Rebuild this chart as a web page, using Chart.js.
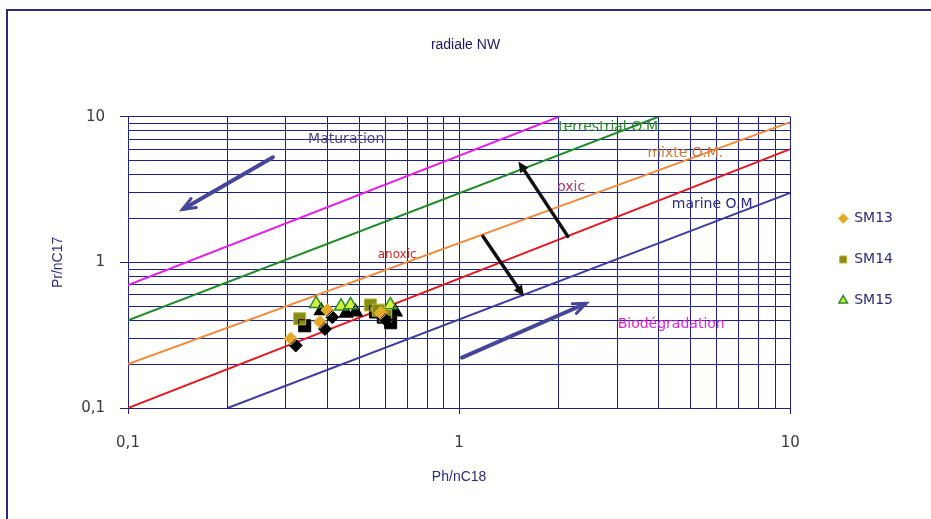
<!DOCTYPE html>
<html>
<head>
<meta charset="utf-8">
<script src="https://cdn.jsdelivr.net/npm/chart.js@4.4.1/dist/chart.umd.min.js"></script>
<style>
  body { margin: 0; background: #fff; }
  #wrap { position: relative; width: 931px; height: 519px; overflow: hidden; }
  #frame { position: absolute; left: 6px; top: 9px; width: 1000px; height: 600px;
           border-left: 2px solid #2b2b78; border-top: 2px solid #2b2b78; background: #fffffd; }
  #chart { position: absolute; left: 0; top: 0; }
</style>
</head>
<body>
<div id="wrap"><div id="frame"></div><canvas id="chart" width="931" height="519"></canvas></div>
<script>
// samples: Ph/nC18 (x) vs Pr/nC17 (y)
const sm13X = [0.31, 0.38, 0.40, 0.58];
const sm13Y = [0.30, 0.39, 0.47, 0.45];
const sm14X = [0.33, 0.54, 0.57, 0.60];
const sm14Y = [0.41, 0.51, 0.47, 0.43];
const sm15X = [0.37, 0.44, 0.47, 0.62];
const sm15Y = [0.52, 0.50, 0.51, 0.51];

// reference lines (start / end points)
const lineNames = ['maturation', 'terrestrial', 'mixte', 'anoxic', 'marine'];
const lineX0 = [0.1, 0.1, 0.1, 0.1, 0.2];
const lineY0 = [0.7, 0.4, 0.2, 0.1, 0.1];
const lineX1 = [2, 4, 10, 10, 10];
const lineY1 = [10, 10, 9.2, 6, 3];

// labels written on the plot
const noteText = ['Maturation', 'terrestrial O.M', 'mixte O.M.', 'oxic', 'anoxic', 'marine O.M', 'Biodégradation'];
const noteX = [0.456, 2.82, 4.82, 2.18, 0.65, 5.81, 4.37];
const noteY = [7.0, 8.47, 5.61, 3.28, 1.12, 2.5, 0.375];

// arrows
const arrowX0 = [0.274, 1.02, 2.13, 1.18];
const arrowY0 = [5.27, 0.222, 1.51, 1.51];
const arrowX1 = [0.146, 2.42, 1.51, 1.57];
const arrowY1 = [2.31, 0.523, 4.94, 0.584];

// axis ticks
const gridVals = [0.1, 0.2, 0.3, 0.4, 0.5, 0.6, 0.7, 0.8, 0.9, 1, 2, 3, 4, 5, 6, 7, 8, 9, 10];
const labelVals = [0.1, 1, 10];

const navy = '#1f1f8c';
const lineColors = ['#e81ee8', '#1f8a2a', '#f28a3c', '#e8141e', '#3c3ca0'];
const noteColors = ['#4a4a88', '#2e8a2e', '#d0783c', '#b03a6a', '#d02828', '#2a2a8a', '#e020e0'];
const noteSizes = [14, 14, 14, 14, 12, 14, 14];
const arrowColors = ['#45459a', '#45459a', '#111', '#111'];

function drawArrow(ctx, x0, y0, x1, y1, color, filled) {
  const a = Math.atan2(y1 - y0, x1 - x0);
  const len = filled ? 12 : 14, spread = filled ? 0.42 : 0.38;
  ctx.save();
  ctx.strokeStyle = color;
  ctx.fillStyle = color;
  ctx.lineWidth = filled ? 3.5 : 4;
  ctx.lineCap = 'round';
  ctx.beginPath();
  ctx.moveTo(x0, y0);
  ctx.lineTo(x1 - Math.cos(a) * (filled ? 6 : 1), y1 - Math.sin(a) * (filled ? 6 : 1));
  ctx.stroke();
  ctx.beginPath();
  ctx.moveTo(x1 - len * Math.cos(a - spread), y1 - len * Math.sin(a - spread));
  ctx.lineTo(x1, y1);
  ctx.lineTo(x1 - len * Math.cos(a + spread), y1 - len * Math.sin(a + spread));
  if (filled) { ctx.closePath(); ctx.fill(); } else { ctx.lineWidth = 3; ctx.stroke(); }
  ctx.restore();
}

const overlay = {
  id: 'overlay',
  afterLayout(chart) {
    // legend sits a bit further right, title centred on the whole picture
    chart.legend.left += 22;
    chart.legend.right += 22;
    chart.titleBlock.left = 0;
    chart.titleBlock.right = chart.width;
  },
  beforeDatasetDraw(chart, args) {
    if (args.index < 3) {
      const ctx = chart.ctx;
      ctx.save();
      ctx.shadowColor = '#000';
      ctx.shadowBlur = 0;
      ctx.shadowOffsetX = 5;
      ctx.shadowOffsetY = 7;
    }
  },
  afterDatasetDraw(chart, args) {
    if (args.index < 3) chart.ctx.restore();
  },
  afterDatasetsDraw(chart) {
    const {ctx, scales: {x, y}} = chart;
    arrowX0.forEach((v, i) => {
      drawArrow(ctx, x.getPixelForValue(v), y.getPixelForValue(arrowY0[i]),
        x.getPixelForValue(arrowX1[i]), y.getPixelForValue(arrowY1[i]), arrowColors[i], i > 1);
    });
    ctx.save();
    ctx.textAlign = 'center';
    ctx.textBaseline = 'middle';
    noteText.forEach((t, i) => {
      ctx.font = noteSizes[i] + 'px "DejaVu Sans", sans-serif';
      ctx.fillStyle = noteColors[i];
      ctx.fillText(t, x.getPixelForValue(noteX[i]), y.getPixelForValue(noteY[i]));
    });
    ctx.restore();
  }
};

const pts = (xs, ys) => xs.map((v, i) => ({x: v, y: ys[i]}));

const datasets = [
  {label: 'SM13', data: pts(sm13X, sm13Y), pointStyle: 'rectRot', pointRadius: 6.5,
   backgroundColor: '#e8a72a', borderColor: '#d8c040', borderWidth: 1},
  {label: 'SM14', data: pts(sm14X, sm14Y), pointStyle: 'rect', pointRadius: 8.5,
   backgroundColor: '#8a8a12', borderColor: '#b8b840', borderWidth: 1},
  {label: 'SM15', data: pts(sm15X, sm15Y), pointStyle: 'triangle', pointRadius: 7.5,
   backgroundColor: '#d4f03c', borderColor: '#2d8a2d', borderWidth: 1.5}
];
lineNames.forEach((n, i) => {
  datasets.push({
    label: n,
    data: [{x: lineX0[i], y: lineY0[i]}, {x: lineX1[i], y: lineY1[i]}],
    showLine: true, pointRadius: 0, borderColor: lineColors[i], borderWidth: 2
  });
});

const tickFont = {family: '"DejaVu Sans", sans-serif', size: 15};
const titleFont = {family: '"Liberation Sans", Arial, sans-serif', size: 14, lineHeight: 1.2};
const fmt = v => labelVals.includes(v) ? String(v).replace('.', ',') : '';
const axisCommon = {
  type: 'logarithmic', min: 0.1, max: 10,
  afterBuildTicks: s => { s.ticks = gridVals.map(v => ({value: v})); },
  border: {color: navy, width: 1}
};
const gridFor = len => ({
  color: navy, lineWidth: 1, tickLength: len,
  tickColor: c => labelVals.includes(c.tick && c.tick.value) ? navy : 'rgba(0,0,0,0)'
});

new Chart(document.getElementById('chart'), {
  type: 'scatter',
  data: {datasets},
  options: {
    responsive: false,
    animation: false,
    layout: {padding: {left: 0, right: 50, top: 0, bottom: 0}},
    plugins: {
      title: {
        display: true, text: 'radiale NW', color: '#1a1a6a',
        font: {family: '"Liberation Sans", Arial, sans-serif', size: 14, weight: 'normal', lineHeight: 1.2},
        padding: {top: 37, bottom: 63}
      },
      legend: {
        position: 'right', align: 'center',
        labels: {
          usePointStyle: true, boxWidth: 8, boxHeight: 7, padding: 27,
          color: '#2a2a80', font: {family: '"DejaVu Sans", sans-serif', size: 14},
          filter: item => item.datasetIndex < 3
        }
      },
      tooltip: {enabled: false}
    },
    scales: {
      x: Object.assign({}, axisCommon, {
        afterFit: s => { s.height = 111; },
        grid: gridFor(6),
        ticks: {autoSkip: false, maxRotation: 0, padding: 20, color: '#3a3a3a', font: tickFont, callback: fmt},
        title: {display: true, text: 'Ph/nC18', color: '#2a2a80', font: titleFont, padding: {top: 0, bottom: 33}}
      }),
      y: Object.assign({}, axisCommon, {
        afterFit: s => { s.width = 128; },
        grid: gridFor(8),
        ticks: {autoSkip: false, padding: 15, color: '#3a3a3a', font: tickFont, callback: fmt},
        title: {display: true, text: 'Pr/nC17', color: '#2a2a80', font: titleFont, padding: {top: 50, bottom: 0}}
      })
    }
  },
  plugins: [overlay]
});
</script>
</body>
</html>
